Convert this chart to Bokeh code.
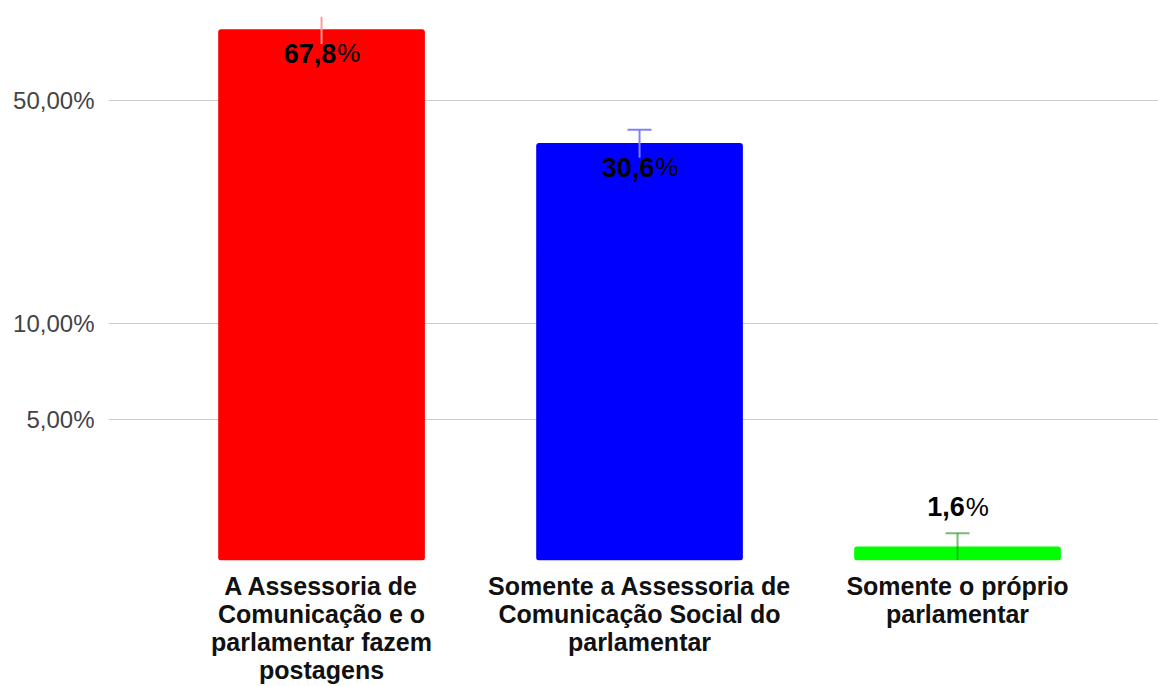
import textwrap
from bokeh.plotting import figure
from bokeh.models import (ColumnDataSource, Range1d, FixedTicker, CustomJSTickFormatter,
                          Whisker, TeeHead)
from bokeh.core.properties import value
from bokeh.embed import file_html
from bokeh.resources import INLINE

# ---- data ----
categories = [
    "A Assessoria de Comunicação e o parlamentar fazem postagens",
    "Somente a Assessoria de Comunicação Social do parlamentar",
    "Somente o próprio parlamentar",
]
bar_values = [83.3, 36.7, 2.0]          # bar heights as drawn (log axis, %)
error_values = [8.3, 3.7, 0.2]          # error bar half-lengths (%)
label_values = [67.8, 30.6, 1.6]        # data labels printed on the bars (%)
bar_colors = ["#ff0000", "#0000ff", "#00ff00"]
error_colors = ["#ff9999", "#8080ff", "#1a8c1a"]
error_alphas = [1.0, 1.0, 0.6]
y_ticks = [5, 10, 50]

FONT = "Liberation Sans"
Y_START, Y_END = 1.809, 91.4

p = figure(width=1158, height=686, y_axis_type="log",
           x_range=Range1d(-0.67, 2.632), y_range=Range1d(Y_START, Y_END),
           output_backend="svg", toolbar_location=None,
           min_border_left=108, min_border_right=0, min_border_top=16,
           min_border_bottom=124)
p.outline_line_color = None
p.background_fill_color = "#ffffff"
p.border_fill_color = "#ffffff"

xs = list(range(len(categories)))

# bars
bar_src = ColumnDataSource(dict(x=xs, top=bar_values, color=bar_colors))
p.vbar(x="x", top="top", bottom=1.0, width=0.65, fill_color="color",
       line_color=None, source=bar_src, border_radius=3)

# error bars (clipped to the plotting area; cap hidden when outside)
for i, (v, e, c, a) in enumerate(zip(bar_values, error_values, error_colors, error_alphas)):
    up, lo = v + e, v - e
    wsrc = ColumnDataSource(dict(base=[xs[i]], upper=[min(up, Y_END)],
                                 lower=[max(lo, Y_START * 1.001)]))
    head = TeeHead(size=24, line_color=c, line_alpha=a, line_width=2) if up <= Y_END else None
    w = Whisker(source=wsrc, base="base", upper="upper", lower="lower",
                dimension="height", line_color=c, line_alpha=a, line_width=2,
                upper_head=head, lower_head=None, level="annotation")
    p.add_layout(w)

# data labels: bold number + regular "%"
num_size, pct_size = 27, 26
nums, xo, yo = [], [], []
for lv, bv in zip(label_values, bar_values):
    t = f"{lv:.1f}".replace(".", ",")
    nd = sum(ch.isdigit() for ch in t)
    nc = t.count(",")
    wn = num_size * (0.556 * nd + 0.278 * nc)
    wp = pct_size * 0.889
    nums.append(t)
    xo.append((wn - wp) / 2)
    yo.append(24 if bv >= 5 else -40)
lab_src = ColumnDataSource(dict(x=xs, y=bar_values, num=nums, xo=xo,
                                xo2=[o + 1 for o in xo], yo=yo,
                                pct=["%"] * len(xs)))
p.text(x="x", y="y", text="num", x_offset="xo", y_offset="yo", source=lab_src,
       text_align="right", text_baseline="alphabetic",
       text_font=value(FONT), text_font_style="bold",
       text_font_size=f"{num_size}px", text_color="#000000", level="overlay")
p.text(x="x", y="y", text="pct", x_offset="xo2", y_offset="yo", source=lab_src,
       text_align="left", text_baseline="alphabetic",
       text_font=value(FONT), text_font_style="normal",
       text_font_size=f"{pct_size}px", text_color="#000000", level="overlay")

# y axis
p.yaxis.ticker = FixedTicker(ticks=y_ticks)
p.yaxis.formatter = CustomJSTickFormatter(
    code="return tick.toFixed(2).replace('.', ',') + '%';")
p.yaxis.axis_line_color = None
p.yaxis.major_tick_line_color = None
p.yaxis.minor_tick_line_color = None
p.yaxis.major_tick_out = 0
p.yaxis.major_tick_in = 0
p.yaxis.minor_tick_out = 0
p.yaxis.minor_tick_in = 0
p.yaxis.major_label_text_font = FONT
p.yaxis.major_label_text_font_size = "24px"
p.yaxis.major_label_text_color = "#444444"
p.yaxis.major_label_standoff = 14

# x axis (category labels)
wrapped = ["\n".join(textwrap.wrap(c, width=23)) for c in categories]
p.xaxis.ticker = FixedTicker(ticks=xs)
p.xaxis.formatter = CustomJSTickFormatter(
    args=dict(labels=wrapped), code="return labels[Math.round(tick)] || '';")
p.xaxis.axis_line_color = None
p.xaxis.major_tick_line_color = None
p.xaxis.minor_tick_line_color = None
p.xaxis.major_tick_out = 0
p.xaxis.major_tick_in = 0
p.xaxis.minor_tick_out = 0
p.xaxis.minor_tick_in = 0
p.xaxis.major_label_text_font = FONT
p.xaxis.major_label_text_font_style = "bold"
p.xaxis.major_label_text_font_size = "25px"
p.xaxis.major_label_text_color = "#111111"
p.xaxis.major_label_text_line_height = 1.0
p.xaxis.major_label_standoff = 11

# grid
p.xgrid.visible = False
p.ygrid.ticker = FixedTicker(ticks=y_ticks)
p.ygrid.grid_line_color = "#cccccc"
p.ygrid.grid_line_width = 1

open("out.html", "w").write(file_html(p, INLINE))
